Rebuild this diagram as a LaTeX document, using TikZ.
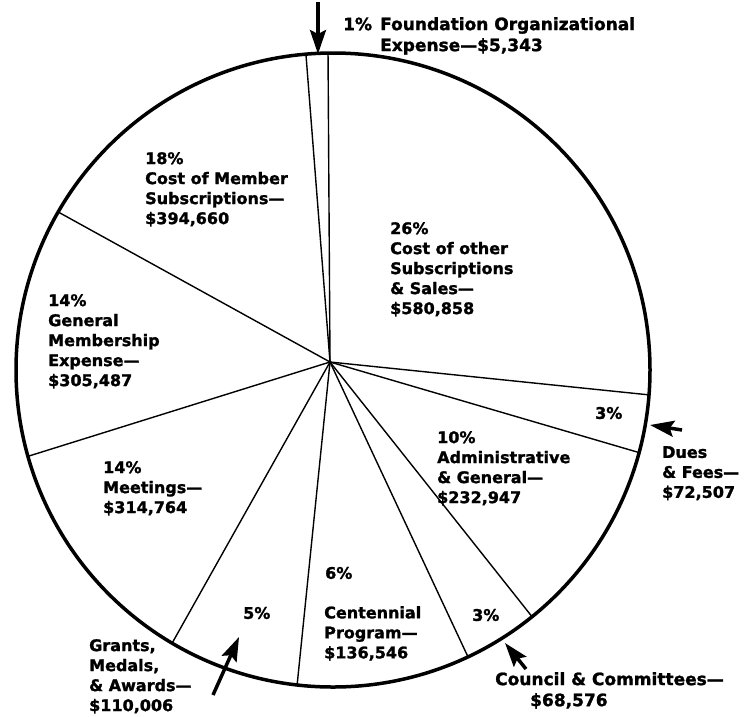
\documentclass[tikz,border=0pt]{standalone}
\usepackage{fontspec}
\setmainfont{DejaVu Sans}
\newfontfamily\piefam{DejaVu Sans Bold}[Ligatures=TeX,FakeBold=1.4]
\usetikzlibrary{arrows.meta}
\newcommand{\pielabel}{\fontsize{16}{20}\selectfont\piefam}
\newcommand{\pietop}{\fontsize{17}{21}\selectfont\piefam}

\begin{document}
\begin{tikzpicture}[x=1pt,y=1pt,
    rim/.style={line width=3.5pt},
    spoke/.style={line width=1.4pt},
    pointer/.style={line width=3.5pt,-{Stealth[length=24pt,width=16pt,inset=4pt]}},
    lbl/.style={font=\pielabel,inner sep=0pt,align=left,anchor=north west},
    pct/.style={font=\pielabel,inner sep=0pt,anchor=west}]
  \useasboundingbox (0,0) rectangle (752,-716);
  \coordinate (c) at (333,-370);
  \coordinate (hub) at (330,-362);
  \draw[rim] (c) circle (317pt);
  % slice borders on the rim
  \begin{scope}[shift={(333,-370)}]
    \path
      (94.9:317) coordinate (s0)
      (90.9:317) coordinate (s1)
      (-4.5:317) coordinate (s2)
      (-15.1:317) coordinate (s3)
      (-51.1:317) coordinate (s4)
      (-64.8:317) coordinate (s5)
      (-96.5:317) coordinate (s6)
      (-120.5:317) coordinate (s7)
      (195.8:317) coordinate (s8)
      (150.1:317) coordinate (s9);
  \end{scope}
  \begin{scope}[spoke]
    \draw (hub) to (s0);
    \draw (hub) to (s1);
    \draw (hub) to (s2);
    \draw (hub) to (s3);
    \draw (hub) to (s4);
    \draw (hub) to (s5);
    \draw (hub) to (s6);
    \draw (hub) to (s7);
    \draw (hub) to (s8);
    \draw (hub) to (s9);
  \end{scope}
  % labels
  \node[pct,font=\pietop] (pfound) at (343,-24) {1\%};
  \node[lbl,font=\pietop] (found) at (380,-17) {Foundation Organizational\\Expense---\$5,343};
  \node[lbl] (member) at (145,-152) {18\%\\Cost of Member\\Subscriptions---\\\$394,660};
  \node[lbl] (other) at (390,-222) {26\%\\Cost of other\\Subscriptions\\\& Sales---\\\$580,858};
  \node[lbl] (general) at (48,-294) {14\%\\General\\Membership\\Expense---\\\$305,487};
  \node[pct] (pdues) at (595,-413) {3\%};
  \node[lbl] (dues) at (662,-446) {Dues\\\& Fees---\\\$72,507};
  \node[lbl] (admin) at (437,-431) {10\%\\Administrative\\\& General---\\\$232,947};
  \node[lbl] (meet) at (103,-461) {14\%\\Meetings---\\\$314,764};
  \node[pct] (pcent) at (325,-573) {6\%};
  \node[lbl] (cent) at (324,-606) {Centennial\\Program---\\\$136,546};
  \node[pct] (pgrants) at (243,-613) {5\%};
  \node[lbl] (grants) at (89,-639) {Grants,\\Medals,\\\& Awards---\\\$110,006};
  \node[pct] (pcouncil) at (472,-615) {3\%};
  \node[lbl,font=\pietop] (council) at (495,-672) {Council \& Committees---\\\hspace*{35pt}\$68,576};
  % pointers
  \coordinate (ftail) at (318,-2);
  \coordinate (ftip) at (318,-54);
  \coordinate (dtail) at (682,-430);
  \coordinate (dtip) at (650,-425);
  \coordinate (ctail) at (526,-669);
  \coordinate (ctip) at (505,-643);
  \coordinate (gtail) at (213,-695);
  \coordinate (gtip) at (239,-637);
  \draw[pointer] (ftail) -- (ftip);
  \draw[pointer] (dtail) -- (dtip);
  \draw[pointer] (ctail) -- (ctip);
  \draw[pointer] (gtail) -- (gtip);
\end{tikzpicture}
\end{document}
